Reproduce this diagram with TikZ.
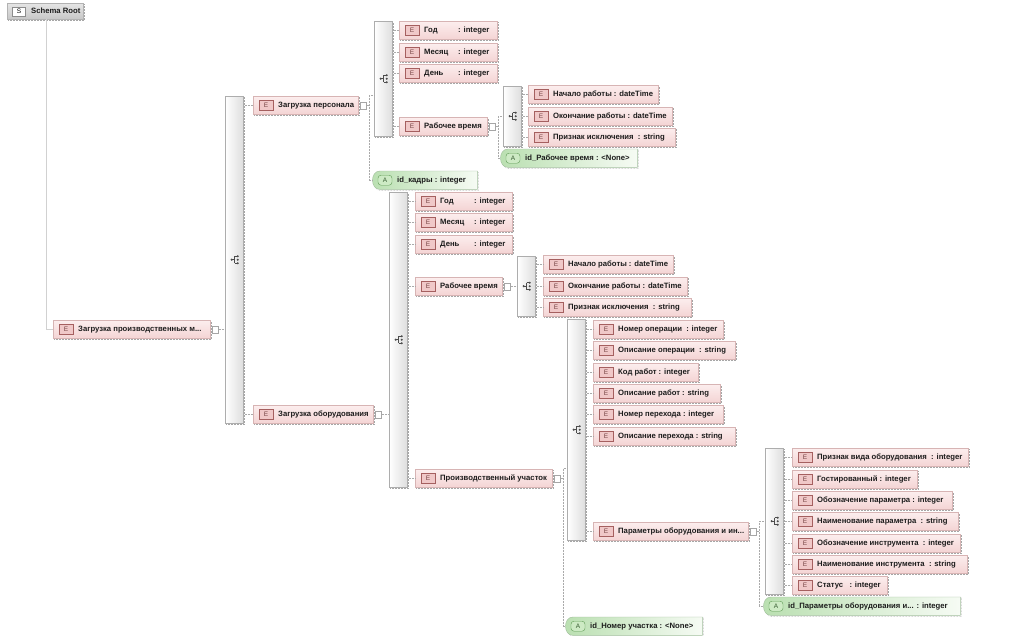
\documentclass[tikz,border=0pt]{standalone}
\usepackage{fontspec}
\setmainfont{Liberation Sans}
\definecolor{epinkT}{RGB}{252,238,238}
\definecolor{epinkB}{RGB}{244,212,212}
\definecolor{eborder}{RGB}{215,180,180}
\definecolor{iconfill}{RGB}{240,200,200}
\definecolor{iconborder}{RGB}{165,95,95}
\definecolor{agreenL}{RGB}{185,223,176}
\definecolor{agreenR}{RGB}{246,251,244}
\definecolor{aiconf}{RGB}{205,234,196}
\definecolor{aiconb}{RGB}{95,155,85}
\definecolor{aedge}{RGB}{160,190,155}
\definecolor{connc}{RGB}{170,170,170}
\definecolor{txt}{RGB}{28,28,28}
\tikzset{
  dshadow/.style={preaction={draw=black!35, densely dotted, line width=0.5pt,
      transform canvas={shift={(1.2pt,-1.2pt)}}}},
  elem/.style={rectangle, draw=eborder, line width=0.4pt, top color=epinkT,
      bottom color=epinkB, minimum height=18pt, inner sep=0pt, anchor=north west, dshadow},
  eicon/.style={rectangle, draw=iconborder, fill=iconfill, line width=0.4pt,
      minimum width=14pt, minimum height=10pt, inner sep=0pt,
      font=\fontsize{6.5}{6.5}\selectfont, text=iconborder!70!black},
  etext/.style={inner sep=0pt, font=\fontsize{7.7}{8}\selectfont\bfseries, text=txt, anchor=west},
  barbox/.style={rectangle, draw=black!32, line width=0.4pt, left color=white,
      right color=black!13, minimum width=18pt, inner sep=0pt, anchor=north west, dshadow},
  xpand/.style={rectangle, draw=black!35, fill=white, line width=0.4pt,
      minimum width=6pt, minimum height=7pt, inner sep=0pt, anchor=west},
  attrfill/.style={left color=agreenL, right color=agreenR, draw=aedge, line width=0.4pt, dshadow},
  aicon/.style={rectangle, rounded corners=3pt, draw=aiconb, fill=aiconf, line width=0.4pt,
      minimum width=14pt, minimum height=10pt, inner sep=0pt,
      font=\fontsize{6.5}{6.5}\selectfont, text=aiconb!60!black},
  conn/.style={draw=connc, densely dotted, line width=0.5pt},
  rootline/.style={draw=black!18, line width=0.7pt},
  seqico/.style={draw=black!70, line width=0.5pt},
}
\newcommand\El[5]{%
  \node[elem, minimum width=#4pt] (#1) at (#2,#3) {};
  \node[eicon] (#1-i) at ([xshift=13pt]#1.west) {E};
  \node[etext] (#1-t) at ([xshift=25pt]#1.west) {#5};}
\newcommand\At[6]{%
  \node[inner sep=0pt, minimum width=#4pt, minimum height=#5pt, anchor=north west] (#1) at (#2,#3) {};
  \path[attrfill] ([xshift=8pt]#1.north west) -- (#1.north east) -- (#1.south east)
     -- ([xshift=8pt]#1.south west) .. controls ([xshift=-2pt]#1.south west) and ([xshift=-2pt]#1.north west) .. ([xshift=8pt]#1.north west) -- cycle;
  \node[aicon] (#1-i) at ([xshift=13pt]#1.west) {A};
  \node[etext] (#1-t) at ([xshift=25pt]#1.west) {#6};}
\newcommand\SeqBar[4]{%
  \node[barbox, minimum height=#4pt] (#1) at (#2,#3) {};
  \begin{scope}[shift={([xshift=1.5pt]#1.center)}]
    \fill[black!70] (-4,0) circle (1.2pt);
    \draw[seqico] (-4,0) -- (-1,0) (-1,-3.5) -- (-1,3.5) (-1,-3.5) -- (1,-3.5) (-1,3.5) -- (1,3.5);
    \fill[black!70] (2,-3.5) circle (1.1pt) (2,0) circle (1.1pt) (2,3.5) circle (1.1pt);
  \end{scope}}
\newcommand\Xp[2]{\node[xpand] (#1) at ([xshift=2pt]#2.east) {};}
\newcommand\Kids[2]{\foreach \c in {#2} {\draw[conn] (\c.west -| #1.east) -- (\c.west);}}
\newcommand\Junc[4]{%
  \coordinate (#4) at ([xshift=2pt]#1.east);
  \coordinate (#4t) at ([yshift=10pt]#4);
  \draw[conn] (#1.east) -- (#4);
  \draw[conn] (#4t -| #2.west) -- (#4t) |- (#3.west);}
\begin{document}
\begin{tikzpicture}[x=1pt,y=-1pt]
\useasboundingbox[fill=white] (0,0) rectangle (1023,635);
% root
\node[rectangle, draw=black!30, top color=black!10, bottom color=black!22, minimum width=76pt,
      minimum height=16pt, inner sep=0pt, anchor=north west, dshadow] (R) at (7,3) {};
\node[rectangle, draw=black!45, fill=white, minimum width=13pt, minimum height=9pt, inner sep=0pt,
      font=\fontsize{6.5}{6.5}\selectfont] (R-i) at ([xshift=12pt]R.west) {S};
\node[etext] (R-t) at ([xshift=24pt]R.west) {Schema Root};
% level 1
\El{E1}{53}{320}{157}{Загрузка производственных м...}
\SeqBar{B1}{225}{96}{327}
\El{E2}{253}{96}{105}{Загрузка персонала}
\El{E3}{253}{405}{120}{Загрузка оборудования}
% personnel
\SeqBar{B2}{374}{21}{115}
\El{Y1}{399}{21}{98}{\makebox[34pt][l]{Год}: integer}
\El{M1}{399}{43}{98}{\makebox[34pt][l]{Месяц}: integer}
\El{D1}{399}{64}{98}{\makebox[34pt][l]{День}: integer}
\El{RV1}{399}{117}{88}{Рабочее время}
\At{A1}{372}{171}{105}{18}{id\_кадры : integer}
\SeqBar{B3}{503}{86}{60}
\El{N1}{528}{85}{130}{Начало работы : dateTime}
\El{O1}{528}{107}{144}{Окончание работы : dateTime}
\El{P1}{528}{128}{147}{Признак исключения \ : string}
\At{A2}{500}{149}{137}{18}{id\_Рабочее время : <None>}
% equipment
\SeqBar{B4}{389}{192}{295}
\El{Y2}{415}{192}{97}{\makebox[34pt][l]{Год}: integer}
\El{M2}{415}{213}{97}{\makebox[34pt][l]{Месяц}: integer}
\El{D2}{415}{235}{97}{\makebox[34pt][l]{День}: integer}
\El{RV2}{415}{277}{87}{Рабочее время}
\El{PU}{415}{469}{137}{Производственный участок}
\SeqBar{B5}{517}{256}{60}
\El{N2}{543}{255}{130}{Начало работы : dateTime}
\El{O2}{543}{277}{144}{Окончание работы : dateTime}
\El{P2}{543}{298}{148}{Признак исключения \ : string}
\SeqBar{B6}{567}{319}{221}
\El{no1}{593}{320}{130}{Номер операции \ : integer}
\El{oo}{593}{341}{142}{Описание операции \ : string}
\El{kr}{593}{363}{105}{Код работ : integer}
\El{orb}{593}{384}{127}{Описание работ : string}
\El{np}{593}{405}{130}{Номер перехода : integer}
\El{op}{593}{427}{142}{Описание перехода : string}
\El{par}{593}{522}{155}{Параметры оборудования и ин...}
\At{A4}{565}{617}{137}{18}{id\_Номер участка : <None>}
\SeqBar{B7}{765}{448}{146}
\El{pv}{792}{448}{176}{Признак вида оборудования \ : integer}
\El{gost}{792}{470}{125}{Гостированный : integer}
\El{obp}{792}{491}{160}{Обозначение параметра : integer}
\El{nap}{792}{512}{166}{Наименование параметра \ : string}
\El{obi}{792}{534}{168}{Обозначение инструмента \ : integer}
\El{nai}{792}{555}{175}{Наименование инструмента \ : string}
\El{st}{792}{576}{95}{Статус \ \ : integer}
\At{A3}{763}{597}{197}{18}{id\_Параметры оборудования и... : integer}
% connectors
\draw[rootline] ([xshift=39pt]R.south west) |- (E1.west);
\Xp{x1}{E1}
\draw[conn] (x1.east) -- (x1.east -| B1.west);
\Kids{B1}{E2,E3}
\Xp{x2}{E2}
\Junc{x2}{B2}{A1}{j2}
\Kids{B2}{Y1,M1,D1,RV1}
\Xp{x3}{RV1}
\Junc{x3}{B3}{A2}{j3}
\Kids{B3}{N1,O1,P1}
\Xp{x4}{E3}
\draw[conn] (x4.east) -- (x4.east -| B4.west);
\Kids{B4}{Y2,M2,D2,RV2,PU}
\Xp{x5}{RV2}
\draw[conn] (x5.east) -- (x5.east -| B5.west);
\Kids{B5}{N2,O2,P2}
\Xp{x6}{PU}
\Junc{x6}{B6}{A4}{j6}
\Kids{B6}{no1,oo,kr,orb,np,op,par}
\Xp{x7}{par}
\Junc{x7}{B7}{A3}{j7}
\Kids{B7}{pv,gost,obp,nap,obi,nai,st}
\end{tikzpicture}
\end{document}
